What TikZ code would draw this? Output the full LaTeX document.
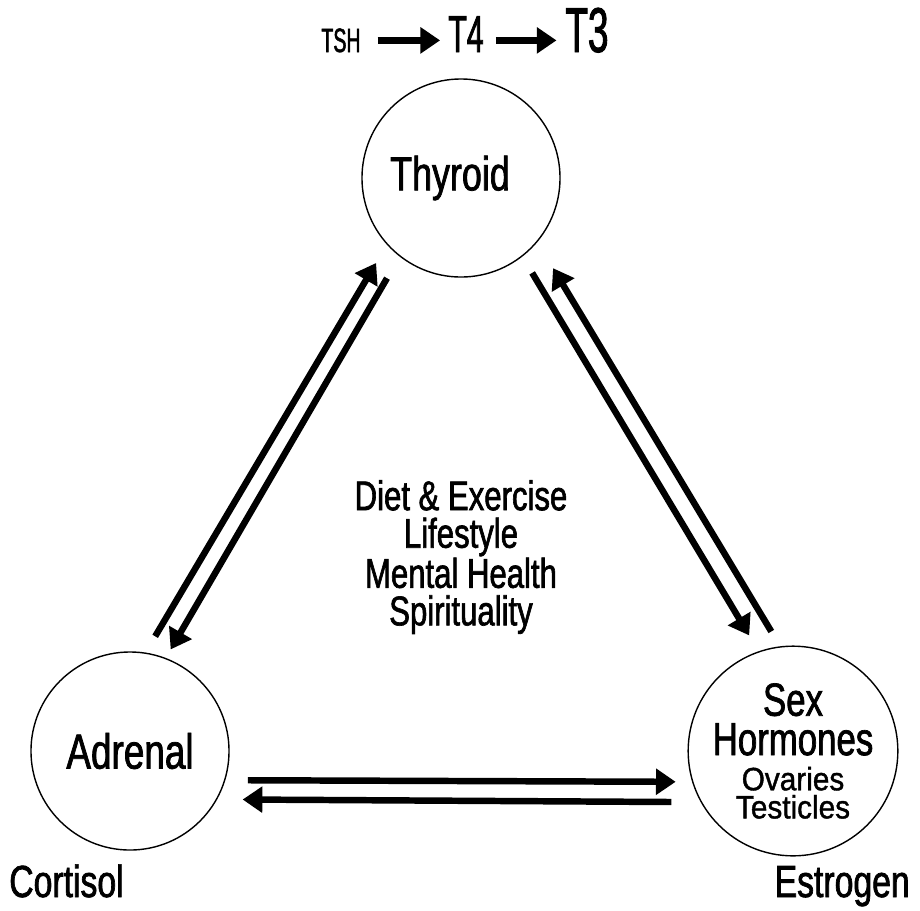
\documentclass[tikz,border=0pt]{standalone}
\usepackage{fontspec}
\setmainfont{Liberation Sans}[FakeStretch=0.75, FakeBold=1.5]
\newfontfamily\narrowface{Liberation Sans}[FakeStretch=0.58, FakeBold=1.5]
\newfontfamily\wideface{Liberation Sans}[FakeStretch=0.92, FakeBold=1.2]
\usetikzlibrary{arrows.meta}

\begin{document}
\begin{tikzpicture}[x=0.025cm, y=-0.025cm]
            \tikzset{gland/.style = {shape=circle, draw, line width=1pt, minimum size=4.95cm, inner sep=0pt, align=center}}
            \tikzset{flow/.style = {line width=4.6pt, -{Triangle[length=14pt, width=18pt]}}}
            \tikzset{caption/.style = {inner sep=0pt, font=\fontsize{32}{32}\selectfont}}

            \useasboundingbox (0,0) rectangle (920,910);

            \node[gland, font=\fontsize{34}{34}\selectfont] (thyroid) at (461,178) {Thyroid\hspace*{0.55cm}};
            \node[gland, font=\fontsize{35}{35}\selectfont] (adrenal) at (130,751) {Adrenal};
            \node[gland, font=\fontsize{33}{24}\selectfont] (sexh) at (793,751)
                {Sex\\[4pt]Hormones\\[1pt]{\wideface\fontsize{23}{24}\selectfont Ovaries}\\[-4pt]{\wideface\fontsize{23}{24}\selectfont Testicles}};

            \node[caption, anchor=base west] (cortisol) at (9,897) {Cortisol};
            \node[caption, anchor=base east] (estrogen) at (910,897) {Estrogen};

            \node[align=center, font=\fontsize{29.5}{26.7}\selectfont] (life) at (461,557)
                {Diet \& Exercise\\Lifestyle\\Mental Health\\Spirituality};

            \node[inner sep=0pt, anchor=base, font=\narrowface\fontsize{24}{24}\selectfont] (tsh) at (341,52) {TSH};
            \node[inner sep=0pt, anchor=base, font=\narrowface\fontsize{37}{37}\selectfont] (t4) at (466,52) {T4};
            \node[inner sep=0pt, anchor=base, font=\narrowface\fontsize{45}{45}\selectfont] (t3) at (587,52) {T3};

            \draw[flow, shorten <=0.42cm, shorten >=0.2cm] (tsh.east) -- (tsh.east -| t4.west);
            \draw[flow, shorten <=0.3cm, shorten >=0.22cm] (t4.east |- tsh.east) -- (t3.west |- tsh.east);

            % thyroid <-> adrenal
            \draw[flow, shorten <=0.47cm, shorten >=0.53cm] (adrenal.81.05) -- (thyroid.222.4);
            \draw[flow, shorten <=0.625cm, shorten >=0.245cm] (thyroid.232.4) -- (adrenal.69.2);

            % thyroid <-> sex hormones
            \draw[flow, shorten <=0.474cm, shorten >=0.46cm] (thyroid.308.3) -- (sexh.109.8);
            \draw[flow, shorten <=0.43cm, shorten >=0.76cm] (sexh.97.1) -- (thyroid.320.6);

            % adrenal <-> sex hormones
            \draw[flow, shorten <=0.56cm, shorten >=0.41cm] (adrenal.-17) -- (sexh.197);
            \draw[flow, shorten <=0.735cm, shorten >=0.635cm] (sexh.209) -- (adrenal.331);
\end{tikzpicture}
\end{document}
